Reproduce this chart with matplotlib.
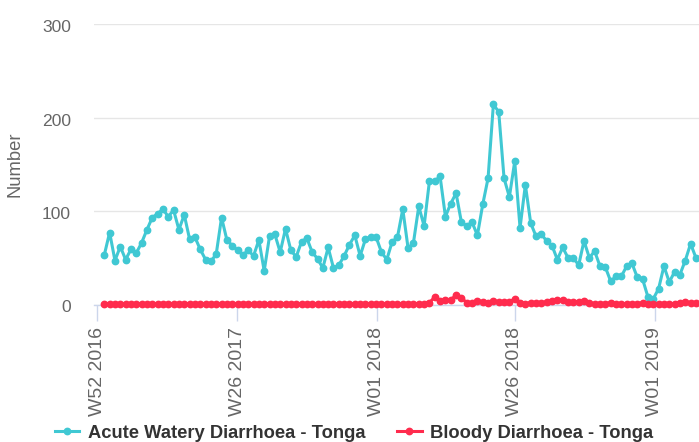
import matplotlib
matplotlib.use('Agg')
import matplotlib.pyplot as plt
from matplotlib.transforms import ScaledTranslation

plt.rcParams['font.family'] = ['Liberation Sans', 'DejaVu Sans']

# ---- data ----
tick_labels = ['W52 2016', 'W26 2017', 'W01 2018', 'W26 2018', 'W01 2019']
series_names = ['Acute Watery Diarrhoea - Tonga', 'Bloody Diarrhoea - Tonga']

awd = [53, 77, 47, 62, 48, 59, 55, 66, 80, 93,
       97, 102, 94, 101, 80, 96, 70, 72, 59, 48,
       46, 54, 93, 69, 63, 58, 53, 58, 52, 69,
       36, 73, 75, 56, 81, 58, 51, 67, 71, 56,
       49, 39, 61, 39, 42, 52, 64, 74, 52, 70,
       72, 72, 56, 48, 67, 72, 102, 60, 66, 105,
       84, 132, 132, 137, 94, 108, 119, 88, 84, 88,
       74, 107, 135, 214, 206, 135, 115, 153, 82, 128,
       87, 73, 75, 68, 63, 48, 61, 50, 50, 42,
       68, 50, 57, 41, 40, 25, 30, 30, 41, 44,
       29, 27, 8, 6, 17, 41, 24, 35, 32, 47,
       65, 50]

bd = [1, 1, 1, 1, 1, 1, 1, 1, 1, 1,
      1, 1, 1, 1, 1, 1, 1, 1, 1, 1,
      1, 1, 1, 1, 1, 1, 1, 1, 1, 1,
      1, 1, 1, 1, 1, 1, 1, 1, 1, 1,
      1, 1, 1, 1, 1, 1, 1, 1, 1, 1,
      1, 1, 1, 1, 1, 1, 1, 1, 1, 1,
      1, 2, 8, 4, 5, 5, 10, 7, 2, 2,
      4, 3, 2, 4, 3, 3, 3, 6, 2, 1,
      2, 2, 2, 3, 4, 5, 5, 3, 3, 3,
      4, 2, 1, 1, 1, 2, 1, 1, 1, 1,
      1, 2, 1, 1, 1, 1, 1, 1, 2, 3,
      2, 2]

weeks = list(range(len(awd)))

# ---- layout ----
W, H = 699, 442
fig = plt.figure(figsize=(W / 100, H / 100), dpi=100)
left_px, right_px, top_px, bottom_px = 94, 699, 24, 304.5
ax = fig.add_axes([left_px / W, 1 - bottom_px / H,
                   (right_px - left_px) / W, (bottom_px - top_px) / H])

teal = '#40c8d3'
red = '#ff2b4d'

ax.plot(weeks, awd, color=teal, lw=2.2, marker='o', ms=4.6,
        label=series_names[0], clip_on=False, zorder=3)
ax.plot(weeks, bd, color=red, lw=2.2, marker='o', ms=4.6,
        label=series_names[1], clip_on=False, zorder=4)

px_per_week = 5.33
x0_px = 104.3
ax.set_xlim((left_px - x0_px) / px_per_week, (right_px - x0_px) / px_per_week)
ax.set_ylim(0, 300)

tick_pos = [-1.28, 24.95, 51.15, 77.0, 103.3]
ax.set_xticks(tick_pos)
ax.set_xticklabels(tick_labels, rotation=90, fontsize=14, color='#666666',
                   va='top', ha='center')
ax.tick_params(axis='x', length=11.5, width=1, color='#ccd6eb', pad=4.5)

ax.set_yticks([0, 100, 200, 300])
ax.set_yticklabels(['0', '100', '200', '300'], fontsize=12.6, color='#666666')
ax.tick_params(axis='y', length=0, pad=16.5)
for lab in ax.get_yticklabels():
    lab.set_transform(lab.get_transform() +
                      ScaledTranslation(0, -2 / 100, fig.dpi_scale_trans))

ax.grid(axis='y', color='#e6e6e6', lw=1)
ax.set_axisbelow(True)
for s in ['top', 'left', 'right']:
    ax.spines[s].set_visible(False)
ax.spines['bottom'].set_color('#ccd6eb')
ax.spines['bottom'].set_linewidth(1)

fig.text(15 / W, 1 - 164 / H, 'Number', rotation=90, fontsize=13.2,
         color='#666666', ha='center', va='center')

fig.legend(loc='center', bbox_to_anchor=(354 / W, 1 - 433 / H), ncol=2,
           frameon=False, handlelength=1.33, handletextpad=0.45,
           columnspacing=1.75, prop={'weight': 'bold', 'size': 13.2},
           labelcolor='#333333', borderaxespad=0, borderpad=0)

fig.savefig('out.png', dpi=100)
